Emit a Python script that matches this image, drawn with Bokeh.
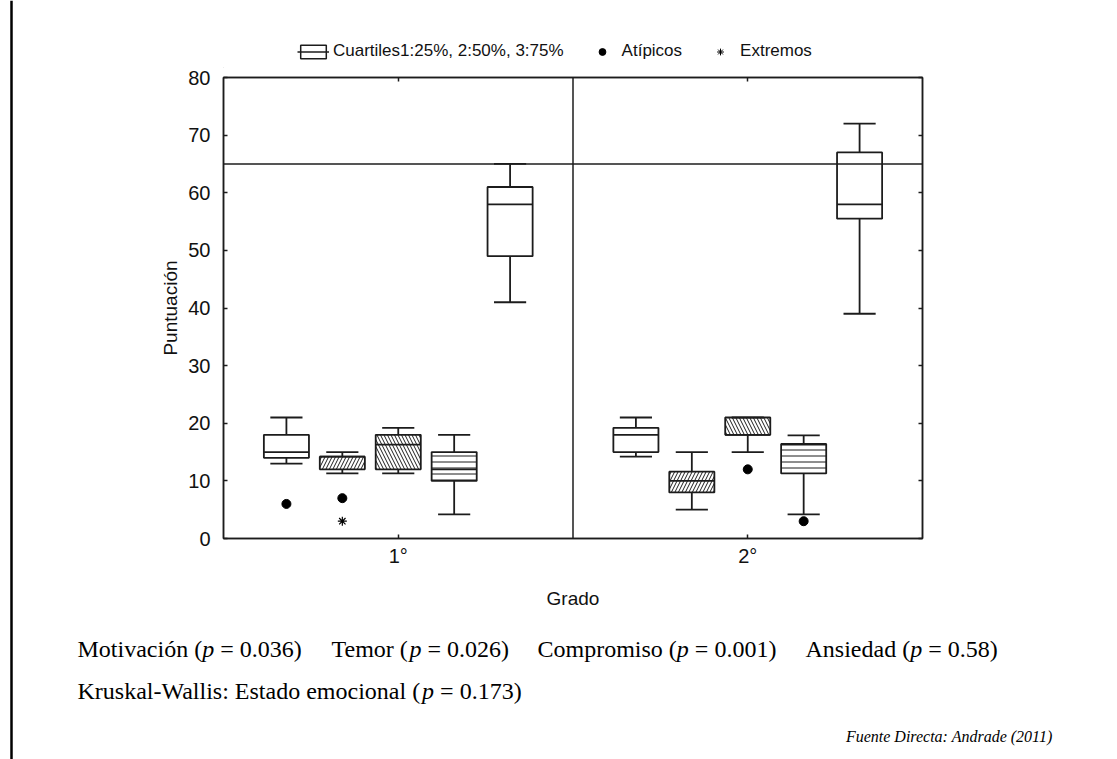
from bokeh.plotting import figure
from bokeh.models import (Range1d, FixedTicker, LinearAxis, Span, Label, Legend,
                          LegendItem, ColumnDataSource)
from bokeh.layouts import row, column
from bokeh.embed import file_html
from bokeh.resources import INLINE

# ---------------- data ----------------
grades = ["1°", "2°"]
variables = ["Motivación", "Temor", "Compromiso", "Ansiedad", "Estado emocional"]

g1_low = [13, 11.3, 11.3, 4.2, 41]
g1_q1 = [14, 12, 12, 10, 49]
g1_med = [15, 14.2, 16.3, 12, 58]
g1_q3 = [18, 14.2, 18, 15, 61]
g1_high = [21, 15, 19.2, 18, 65]

g2_low = [14.2, 5, 15, 4.2, 39]
g2_q1 = [15, 8, 18, 11.3, 55.5]
g2_med = [18, 10, 18, 16.3, 58]
g2_q3 = [19.2, 11.6, 21, 16.4, 67]
g2_high = [21, 15, 21, 17.9, 72]

outlier_grade = ["1°", "1°", "2°", "2°"]
outlier_var = ["Motivación", "Temor", "Compromiso", "Ansiedad"]
outlier_val = [6, 7, 12, 3]

extreme_grade = ["1°"]
extreme_var = ["Temor"]
extreme_val = [3]

reference_value = 65
y_ticks = [0, 10, 20, 30, 40, 50, 60, 70, 80]

legend_labels = ["Cuartiles1:25%, 2:50%, 3:75%", "Atípicos", "Extremos"]
notes_line1 = [("Motivación", "0.036"), ("Temor", "0.026"),
               ("Compromiso", "0.001"), ("Ansiedad", "0.58")]
notes_line2 = ("Kruskal-Wallis: Estado emocional", "0.173")
source_note = "Fuente Directa: Andrade (2011)"

# ---------------- styling / layout ----------------
SANS = "Liberation Sans"
SERIF = "Liberation Serif"
INK = "#1c1c1c"
hatches = [None, "/", "\\", "-", None]
hatch_scales = [7, 7, 7, 6, 7]
offsets = [-0.32, -0.16, 0.0, 0.16, 0.32]
box_w = 0.129
cap_w = 0.092
BL, FW, BR = 207, 699, 184          # left border, frame width, right border
FRAME_L = 16 + BL                   # page x of frame left edge
FIG_W = BL + FW + BR
x_ticks = [i + 1 for i in range(len(grades))]

stats = {
    0: dict(low=g1_low, q1=g1_q1, med=g1_med, q3=g1_q3, high=g1_high),
    1: dict(low=g2_low, q1=g2_q1, med=g2_med, q3=g2_q3, high=g2_high),
}

# ---------------- legend strip (top) ----------------
LG_H = 68
lg = figure(frame_width=FW, height=LG_H, x_range=Range1d(0, 1), y_range=Range1d(0, 1),
            output_backend="svg", toolbar_location=None, min_border_left=BL,
            min_border_right=BR, min_border_top=0, min_border_bottom=0,
            x_axis_location=None, y_axis_location=None, outline_line_color=None)
lg.grid.visible = False
# legend sample glyphs (their data sit outside the visible range)
lg_box = lg.vbar(x=[-5], top=[-5], bottom=[-6], width=0.1, fill_color="white",
                 line_color=INK, line_width=1.5)
lg_med = lg.segment(x0=[-5], y0=[-5], x1=[-4], y1=[-5], line_color=INK, line_width=1.5)
lg_out = lg.scatter(x=[-5], y=[-5], marker="circle", size=7, fill_color="black",
                    line_color="black")
lg_ext = lg.scatter(x=[-5], y=[-5], marker="asterisk", size=7, line_color="black",
                    line_width=1)
legend = Legend(items=[
    LegendItem(label=legend_labels[0], renderers=[lg_box, lg_med]),
    LegendItem(label=legend_labels[1], renderers=[lg_out]),
    LegendItem(label=legend_labels[2], renderers=[lg_ext]),
], orientation="horizontal", location=(297 - FRAME_L, 7), glyph_width=32,
    glyph_height=17, label_text_font=SANS, label_text_font_size="17px",
    label_text_color="#111111", border_line_color=None, background_fill_alpha=0,
    padding=0, margin=0, spacing=22, label_standoff=4)
lg.add_layout(legend, "center")

# ---------------- main plot ----------------
p = figure(frame_width=FW, frame_height=461, x_range=Range1d(0.5, 2.5),
           y_range=Range1d(0, 80), output_backend="svg", toolbar_location=None,
           min_border_left=BL, min_border_right=BR, min_border_top=9,
           min_border_bottom=82, background_fill_color="white",
           border_fill_color="white")
p.grid.visible = False
p.outline_line_color = INK
p.outline_line_width = 1.5

p.yaxis.ticker = FixedTicker(ticks=y_ticks)
p.xaxis.ticker = FixedTicker(ticks=x_ticks)
p.xaxis.major_label_overrides = {t: g for t, g in zip(x_ticks, grades)}
for ax in (p.xaxis[0], p.yaxis[0]):
    ax.major_tick_in = 4
    ax.major_tick_out = 0
    ax.minor_tick_in = 0
    ax.minor_tick_out = 0
    ax.axis_line_color = INK
    ax.axis_line_width = 1.5
    ax.major_tick_line_color = INK
    ax.major_tick_line_width = 1.5
    ax.major_label_text_font = SANS
    ax.major_label_text_font_size = "20px"
    ax.major_label_text_color = "#111111"
    ax.axis_label_text_font = SANS
    ax.axis_label_text_font_size = "19px"
    ax.axis_label_text_font_style = "normal"
    ax.axis_label_text_color = "#111111"
p.yaxis.axis_label = "Puntuación"
p.xaxis.axis_label = "Grado"
p.yaxis.major_label_standoff = 13
p.yaxis.axis_label_standoff = 4
p.xaxis.major_label_standoff = 6
p.xaxis.axis_label_standoff = 18

frame_tick_style = dict(major_tick_in=4, major_tick_out=0, minor_tick_in=0,
                        minor_tick_out=0, axis_line_color=INK, axis_line_width=1.5,
                        major_tick_line_color=INK, major_tick_line_width=1.5,
                        major_label_standoff=0)
right_axis = LinearAxis(ticker=FixedTicker(ticks=y_ticks),
                        major_label_overrides={t: "" for t in y_ticks},
                        **frame_tick_style)
p.add_layout(right_axis, "right")
top_axis = LinearAxis(ticker=FixedTicker(ticks=x_ticks),
                      major_label_overrides={t: "" for t in x_ticks},
                      **frame_tick_style)
p.add_layout(top_axis, "above")

med_src = dict(x0=[], x1=[], y=[])
wh_src = dict(x=[], y0=[], y1=[])
cap_src = dict(x0=[], x1=[], y=[])
for vi, var in enumerate(variables):
    xs, tops, bottoms = [], [], []
    for gi in range(len(grades)):
        s = stats[gi]
        x = gi + 1 + offsets[vi]
        xs.append(x)
        tops.append(s["q3"][vi])
        bottoms.append(s["q1"][vi])
        med_src["x0"].append(x - box_w / 2)
        med_src["x1"].append(x + box_w / 2)
        med_src["y"].append(s["med"][vi])
        wh_src["x"] += [x, x]
        wh_src["y0"] += [s["q3"][vi], s["q1"][vi]]
        wh_src["y1"] += [s["high"][vi], s["low"][vi]]
        cap_src["x0"] += [x - cap_w / 2, x - cap_w / 2]
        cap_src["x1"] += [x + cap_w / 2, x + cap_w / 2]
        cap_src["y"] += [s["high"][vi], s["low"][vi]]
    kw = {}
    if hatches[vi]:
        kw = dict(hatch_pattern=hatches[vi], hatch_color=INK, hatch_weight=1,
                  hatch_scale=hatch_scales[vi])
    p.vbar(x=xs, top=tops, bottom=bottoms, width=box_w, fill_color="white",
           line_color=INK, line_width=1.8, **kw)

p.segment(x0="x", y0="y0", x1="x", y1="y1", source=ColumnDataSource(wh_src),
          line_color=INK, line_width=1.8, level="underlay")
p.segment(x0="x0", y0="y", x1="x1", y1="y", source=ColumnDataSource(cap_src),
          line_color=INK, line_width=1.8)
p.segment(x0="x0", y0="y", x1="x1", y1="y", source=ColumnDataSource(med_src),
          line_color=INK, line_width=1.8)

ox = [grades.index(g) + 1 + offsets[variables.index(v)] for g, v in zip(outlier_grade, outlier_var)]
p.scatter(x=ox, y=outlier_val, marker="circle", size=9, fill_color="black",
          line_color="black")
ex = [grades.index(g) + 1 + offsets[variables.index(v)] for g, v in zip(extreme_grade, extreme_var)]
p.scatter(x=ex, y=extreme_val, marker="asterisk", size=9, line_color="black",
          line_width=1.2)

p.add_layout(Span(location=reference_value, dimension="width", line_color=INK,
                  line_width=1.5))
p.add_layout(Span(location=1.5, dimension="height", line_color=INK, line_width=1.5))

# ---------------- notes below (page-pixel coordinates) ----------------
TIMES_W = {" ": 250, "(": 333, ")": 333, "=": 564, ".": 250, ":": 278, "-": 333,
           "A": 722, "C": 667, "E": 611, "K": 722, "M": 889, "T": 611, "W": 944,
           "a": 444, "c": 444, "d": 500, "e": 444, "i": 278, "k": 500, "l": 278,
           "m": 778, "n": 500, "o": 500, "p": 500, "r": 333, "s": 389, "t": 278,
           "u": 500, "v": 500, "ó": 500}


def tw(s, size):
    return sum(TIMES_W.get(c, 500) for c in s) / 1000 * size


NOTE_SIZE = 24
NF_TOP, NF_BOT = 620, 755
nf = figure(width=FIG_W, height=NF_BOT - NF_TOP, x_range=Range1d(16, 16 + FIG_W),
            y_range=Range1d(NF_BOT, NF_TOP), output_backend="svg",
            toolbar_location=None, min_border=0, x_axis_location=None,
            y_axis_location=None, outline_line_color=None, frame_align=False)
nf.grid.visible = False


def note(x, y, name, pval):
    pieces = [(name + " (", "normal", 0), ("p", "italic", 0), ("= " + pval + ")", "normal", 1)]
    for txt, style, lead in pieces:
        x += lead * tw(" ", NOTE_SIZE)
        nf.add_layout(Label(x=x, y=y, text=txt, text_font=SERIF,
                            text_font_size=f"{NOTE_SIZE}px", text_font_style=style,
                            text_baseline="middle", text_color="black"))
        x += tw(txt, NOTE_SIZE)


for (name, pv), x0 in zip(notes_line1, [77, 331, 537, 805]):
    note(x0, 648, name, pv)
note(77, 690, notes_line2[0], notes_line2[1])
nf.add_layout(Label(x=1052, y=736, text=source_note, text_font=SERIF,
                    text_font_size="16px", text_font_style="italic", text_align="right",
                    text_baseline="middle", text_color="black"))

# ---------------- left rule ----------------
TOTAL_H = LG_H + 612 + (NF_BOT - NF_TOP)
lf = figure(width=16, height=TOTAL_H, x_range=Range1d(0, 16), y_range=Range1d(0, TOTAL_H),
            output_backend="svg", toolbar_location=None, min_border=0,
            x_axis_location=None, y_axis_location=None, outline_line_color=None,
            frame_align=False)
lf.grid.visible = False
lf.add_layout(Span(location=11, dimension="height", line_color="black", line_width=2.5))

layout = row(lf, column(lg, p, nf))
open("out.html", "w").write(file_html(layout, INLINE))
